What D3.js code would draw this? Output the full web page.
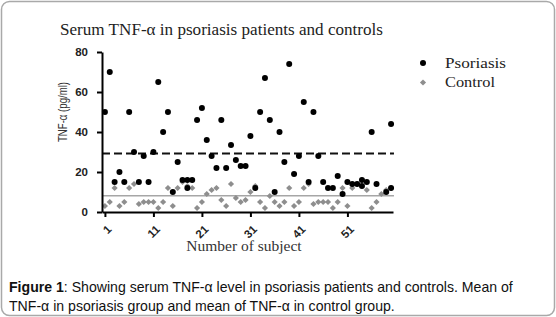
<!DOCTYPE html>
<html>
<head>
<meta charset="utf-8">
<script src="https://cdn.jsdelivr.net/npm/d3@7"></script>
<style>
  body { margin: 0; background: #fff; }
  svg { display: block; }
</style>
</head>
<body>
<div id="chart"></div>
<script>
// psoriasis: subject number + TNF-a value (a few subjects show two dots)
const psoSubject = [1,2,3,4,5,6,7,8,9,10,11,12,13,14,15,16,17,18,18,19,20,21,22,23,24,25,26,27,28,29,30,
  31,32,33,34,35,36,37,38,39,40,41,42,43,44,45,46,47,48,49,50,51,52,53,54,54,55,56,57,59,60,60];
const psoValue = [50,70,15,20,15,50,30,15,28,15,30,65,40,50,10,25,16,16,12,16,46,52,36,28,22,46,22,33.5,26,23,23,
  38,12,50,67,46,10,40,25,74,19,28,55,15,50,28,15,12,12,18,9,15,14,14,16,13,15,40,14,10,12,44];

// controls, subjects 1..60
const ctrlValue = [3,5,12,3,5,12,14,4,5,5,5,2,5,12,3,12,15,13,12,2,5,9,11,12,6,3,14,7,5,6,
  10,13,5,2,8,5,3,5,12,3,5,12,14,4,5,5,5,2,5,12,3,12,14,16,11,2,5,9,11,12];

const psoMean = 29.2;
const ctrlMean = 8.1;
const xTicks = [1, 11, 21, 31, 41, 51];
const yTicks = [0, 20, 40, 60, 80];

const width = 556, height = 317;
const serif = "'Liberation Serif', 'Times New Roman', serif";
const sans = "'Liberation Sans', Arial, sans-serif";

const svg = d3.select("#chart").append("svg")
    .attr("width", width)
    .attr("height", height);

// frame
svg.append("rect")
    .attr("x", 1.5).attr("y", 1.5)
    .attr("width", width - 3).attr("height", height - 3)
    .attr("rx", 8)
    .attr("fill", "none")
    .attr("stroke", "#a9a9a9")
    .attr("stroke-width", 1.5);

const xScale = d3.scaleLinear().domain([0.4, 60.4]).range([102, 393]);
const yScale = d3.scaleLinear().domain([0, 80]).range([212, 52]);

svg.append("text")
    .attr("x", 60).attr("y", 35)
    .attr("font-family", serif)
    .attr("font-size", 16)
    .attr("textLength", 323)
    .attr("lengthAdjust", "spacingAndGlyphs")
    .attr("fill", "#222")
    .text("Serum TNF-\u03b1 in psoriasis patients and controls");

// mean lines
svg.append("line")
    .attr("x1", xScale(0.4)).attr("x2", xScale(60.6))
    .attr("y1", yScale(ctrlMean)).attr("y2", yScale(ctrlMean))
    .attr("stroke", "#a6a6a6").attr("stroke-width", 1.5);

svg.append("line")
    .attr("x1", xScale(0.4)).attr("x2", xScale(60.6))
    .attr("y1", yScale(psoMean)).attr("y2", yScale(psoMean))
    .attr("stroke", "#111").attr("stroke-width", 2)
    .attr("stroke-dasharray", "8,4");

// control diamonds (rotated squares)
const diamond = d3.symbol().type(d3.symbolSquare).size(19);
svg.selectAll(".ctrl")
    .data(ctrlValue)
    .enter()
    .append("path")
        .attr("class", "ctrl")
        .attr("d", diamond)
        .attr("transform", (d, i) => `translate(${xScale(i + 1)},${yScale(d)}) rotate(45)`)
        .attr("fill", "#8e8e8e");

// psoriasis dots
svg.selectAll(".pso")
    .data(psoValue)
    .enter()
    .append("circle")
        .attr("class", "pso")
        .attr("cx", (d, i) => xScale(psoSubject[i]))
        .attr("cy", d => yScale(d))
        .attr("r", 3)
        .attr("fill", "#000");

// axes
const yAxis = svg.append("g")
    .attr("transform", `translate(${xScale(0.4)},0)`)
    .call(d3.axisLeft(yScale).tickValues(yTicks).tickSize(5).tickSizeOuter(0).tickPadding(9));

const xAxis = svg.append("g")
    .attr("transform", `translate(0,${yScale(0)})`)
    .call(d3.axisBottom(xScale).tickValues(xTicks).tickSize(5).tickSizeOuter(0).tickFormat(d3.format("d")));

[yAxis, xAxis].forEach(g => {
    g.select(".domain").attr("stroke", "#000").attr("stroke-width", 2);
    g.selectAll(".tick line").attr("stroke", "#000").attr("stroke-width", 2);
});

yAxis.selectAll("text")
    .attr("font-family", sans).attr("font-size", 11.5).attr("font-weight", "bold").attr("fill", "#222");

xAxis.selectAll("text")
    .attr("font-family", sans).attr("font-size", 11.5).attr("font-weight", "bold").attr("fill", "#222")
    .attr("text-anchor", "end")
    .attr("dy", "0.35em")
    .attr("transform", "translate(4,15) rotate(-45)")
    .attr("y", 0);

svg.append("text")
    .attr("transform", "translate(67,112) rotate(-90)")
    .attr("text-anchor", "middle")
    .attr("font-family", sans)
    .attr("font-size", 13)
    .attr("textLength", 60)
    .attr("lengthAdjust", "spacingAndGlyphs")
    .attr("fill", "#333")
    .text("TNF-\u03b1 (pg/ml)");

svg.append("text")
    .attr("x", 244).attr("y", 251)
    .attr("text-anchor", "middle")
    .attr("font-family", serif)
    .attr("font-size", 15.5)
    .attr("fill", "#333")
    .text("Number of subject");

// legend
const legend = svg.append("g");
legend.append("circle")
    .attr("cx", 423).attr("cy", 63).attr("r", 3).attr("fill", "#000");
legend.append("path")
    .attr("d", diamond)
    .attr("transform", "translate(423,82.5) rotate(45)")
    .attr("fill", "#8e8e8e");
legend.append("text")
    .attr("x", 445).attr("y", 68)
    .attr("font-family", serif).attr("font-size", 15.5).attr("fill", "#222")
    .attr("textLength", 61).attr("lengthAdjust", "spacingAndGlyphs")
    .text("Psoriasis");
legend.append("text")
    .attr("x", 445).attr("y", 87)
    .attr("font-family", serif).attr("font-size", 15.5).attr("fill", "#222")
    .attr("textLength", 50).attr("lengthAdjust", "spacingAndGlyphs")
    .text("Control");

// caption
const cap1 = svg.append("text")
    .attr("x", 9).attr("y", 292)
    .attr("font-family", sans).attr("font-size", 14.1).attr("fill", "#111");
cap1.append("tspan").attr("font-weight", "bold").text("Figure 1");
cap1.append("tspan").text(": Showing serum TNF-\u03b1 level in psoriasis patients and controls. Mean of");

svg.append("text")
    .attr("x", 9).attr("y", 310.5)
    .attr("font-family", sans).attr("font-size", 14.1).attr("fill", "#111")
    .text("TNF-\u03b1 in psoriasis group and mean of TNF-\u03b1 in control group.");
</script>
</body>
</html>
